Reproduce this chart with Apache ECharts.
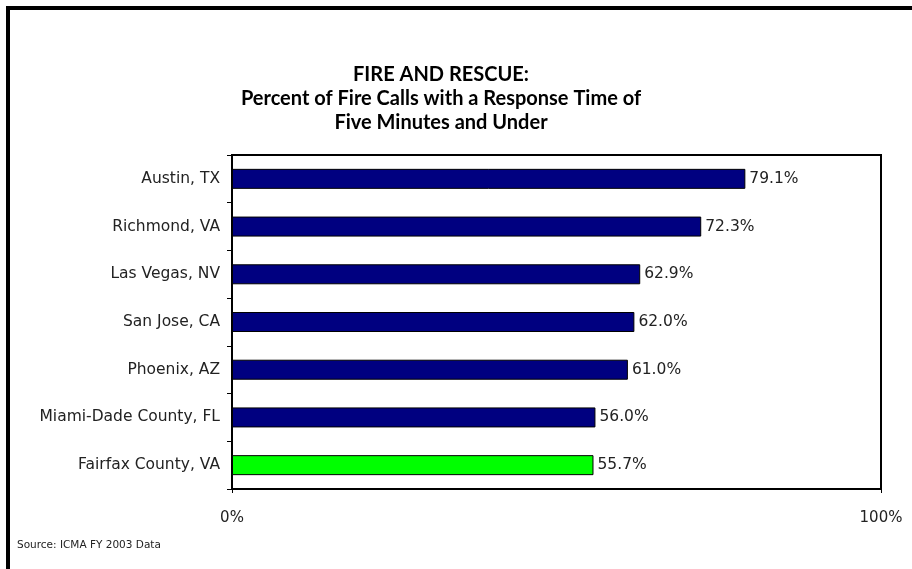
<!DOCTYPE html>
<html>
<head>
<meta charset="utf-8">
<script src="https://cdn.jsdelivr.net/npm/echarts@6/dist/echarts.min.js"></script>
<style>
  html, body { margin: 0; padding: 0; background: #fff; }
  #chart { width: 912px; height: 569px; }
</style>
</head>
<body>
<div id="chart"></div>
<script>
const cities = ['Austin, TX', 'Richmond, VA', 'Las Vegas, NV', 'San Jose, CA', 'Phoenix, AZ', 'Miami-Dade County, FL', 'Fairfax County, VA'];
const percents = [79.1, 72.3, 62.9, 62.0, 61.0, 56.0, 55.7];
const barColors = ['#000080', '#000080', '#000080', '#000080', '#000080', '#000080', '#00ff00'];
const xTicks = [0, 100];

const font = '"DejaVu Sans", sans-serif';
const titleFont = 'Lato, sans-serif';
const chart = echarts.init(document.getElementById('chart'));

const option = {
    animation: false,
    backgroundColor: '#fff',
    title: {
        text: 'FIRE AND RESCUE:\nPercent of Fire Calls with a Response Time of\nFive Minutes and Under',
        left: 436,
        top: 58,
        textAlign: 'center',
        textStyle: {
            fontFamily: titleFont,
            fontWeight: 'bold',
            fontSize: 20,
            lineHeight: 24,
            color: '#000'
        }
    },
    graphic: [
        {
            type: 'rect',
            shape: { x: 8, y: 8, width: 960, height: 620 },
            style: { fill: 'none', stroke: '#000', lineWidth: 4 },
            silent: true
        },
        {
            type: 'text',
            left: 17,
            top: 540,
            style: {
                text: 'Source: ICMA FY 2003 Data',
                fontFamily: font,
                fontSize: 10.5,
                fill: '#222'
            }
        }
    ],
    grid: {
        left: 232,
        right: 31,
        top: 155,
        bottom: 80,
        show: true,
        borderColor: '#000',
        borderWidth: 2,
        backgroundColor: 'transparent'
    },
    xAxis: {
        type: 'value',
        min: xTicks[0],
        max: xTicks[1],
        interval: 100,
        axisLine: { show: true, lineStyle: { color: '#000', width: 2 } },
        axisTick: { show: true, length: 4, lineStyle: { color: '#000' } },
        splitLine: { show: false },
        axisLabel: {
            formatter: '{value}%',
            margin: 22,
            fontFamily: font,
            fontSize: 15,
            color: '#222'
        }
    },
    yAxis: {
        type: 'category',
        inverse: true,
        data: cities,
        axisLine: { show: true, lineStyle: { color: '#000', width: 2 } },
        axisTick: { show: true, length: 5, lineStyle: { color: '#000' } },
        axisLabel: {
            margin: 12,
            fontFamily: font,
            fontSize: 15.5,
            color: '#222'
        }
    },
    series: [{
        type: 'bar',
        barWidth: 20,
        data: percents.map((v, i) => ({
            value: v,
            itemStyle: { color: barColors[i], borderColor: '#000', borderWidth: 1 }
        })),
        label: {
            show: true,
            position: 'right',
            distance: 4,
            formatter: p => p.value.toFixed(1) + '%',
            fontFamily: font,
            fontSize: 15.5,
            color: '#222'
        }
    }]
};

chart.setOption(option);
</script>
</body>
</html>
